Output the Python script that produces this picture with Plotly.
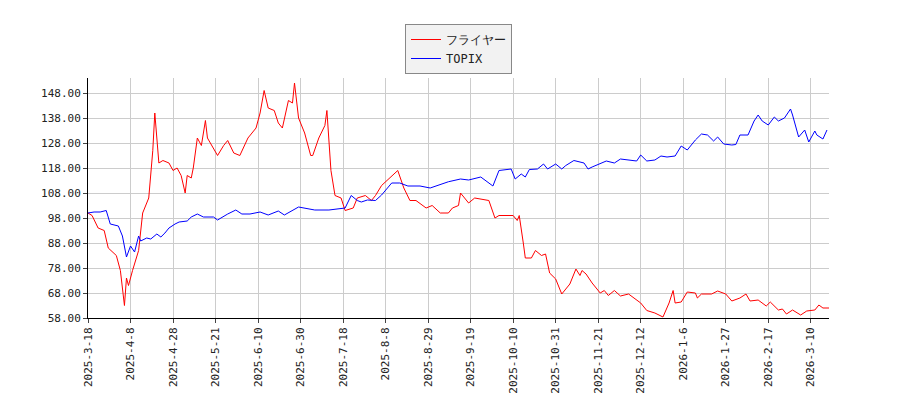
import datetime as dt
import plotly.graph_objects as go

start = dt.date(2025, 3, 18)
red_days = [0,2,5,8,10,14,16,18,19,20,22,25,27,30,32,33,35,37,40,42,
44,46,48,49,51,52,54,56,58,59,64,67,69,72,75,79,83,85,87,89,
92,94,96,99,101,102,104,107,110,111,114,117,118,120,122,125,127,131,133,137,
140,142,145,149,153,156,159,162,167,170,174,178,180,183,184,188,191,198,201,203,
210,212,213,215,216,219,221,224,226,228,231,234,238,241,243,244,246,249,253,255,
257,260,263,267,273,276,280,284,287,289,290,293,296,300,301,303,308,311,315,318,
322,325,327,331,335,337,341,343,345,348,352,355,359,361,363,366]
red_vals = [100,99,94,93,86,83,77,63,74,71,77,85,100,106,125,140,120,121,120,117,
118,115,108,115,114,118,130,127,137,130,123,127,129,124,123,130,134,140,149,142,
141,136,134,145,144,152,138,132,123,123,130,135,141,117,107,106,101,102,106,107,
105,107,111,114,117,110,105,105,102,103,100,100,102,103,108,104,106,105,98,99,
99,97,99,88,82,82,85,83,83.6,76,73.6,67.6,71.6,77.6,75,77,75.6,72,68,69,
67,69,66.8,67.6,64,61,60,58.4,64,69,64,64.4,68.4,68,66,67.6,67.6,68.8,67.6,64.8,
66,67.6,64.8,65.2,62.8,64.4,61.2,61.6,59.6,61.2,59.2,60.8,61.2,63.2,62,62]
blue_days = [0,3,6,9,11,15,17,19,21,23,25,26,29,31,34,36,38,40,43,45,49,51,54,57,62,64,69,73,76,80,
85,89,94,97,104,112,119,125,127,130,133,135,138,142,145,150,154,158,164,169,173,178,184,188,194,198,200,203,209,211,
214,216,218,222,225,227,231,234,236,240,245,247,249,256,260,263,268,271,273,276,280,283,286,290,293,296,300,303,306,309,
311,314,318,320,322,326,329,331,333,336,339,341,344,347,348,351,354,356,359,360,363,365]
blue_vals = [100,100.4,100.4,101,95.6,94.8,90.8,82.4,86.8,84.4,90.8,88.8,90,89.6,91.6,90.4,92,94,95.6,96.4,96.8,98.4,99.6,98.4,98.4,97.2,99.6,101.2,99.6,99.6,
100.4,99.2,100.8,99.2,102.4,101.2,101.2,101.6,102,107,105,104.4,105.2,105,107.2,112,112,110.8,110.8,110,111.2,112.5,113.6,113.2,114.4,112,110.8,117,117.6,113.6,
115.6,114.4,117.4,117.6,119.6,117.6,119.6,117.6,119,121,120,117.6,118.4,120.8,120,121.6,121.2,120.8,123.2,120.8,121.2,122.8,122.4,122.8,126.8,125.2,129.2,131.6,131.2,128.8,
130.4,127.6,127.2,127.4,131.2,131.2,136.8,139.2,136.8,135.2,138.4,136.8,138,141.6,139.2,130.4,133.2,128.4,132.8,131.2,129.6,133.2]
tick_text = ["2025-3-18","2025-4-8","2025-4-28","2025-5-21","2025-6-10","2025-6-30",
             "2025-7-18","2025-8-8","2025-8-29","2025-9-19","2025-10-10","2025-10-31",
             "2025-11-21","2025-12-12","2026-1-6","2026-1-27","2026-2-17","2026-3-10"]
assert len(red_days) == len(red_vals) and len(blue_days) == len(blue_vals)

def todate(d):
    return start + dt.timedelta(days=d)

tick_dates = [todate(21 * i) for i in range(len(tick_text))]
y_ticks = [58 + 10 * i for i in range(10)]

fig = go.Figure()
fig.add_trace(go.Scatter(x=[todate(d) for d in red_days], y=red_vals, mode="lines",
                         name="フライヤー", line=dict(color="red", width=1)))
fig.add_trace(go.Scatter(x=[todate(d) for d in blue_days], y=blue_vals, mode="lines",
                         name="TOPIX", line=dict(color="blue", width=1)))
fig.update_layout(
    width=900, height=400, plot_bgcolor="white", paper_bgcolor="white",
    margin=dict(l=80, r=79, t=70, b=90, autoexpand=False),
    font=dict(family="DejaVu Sans Mono", size=11, color="#222"),
    legend=dict(x=0.5, xanchor="center", y=1.225, yanchor="top", bordercolor="#888",
                borderwidth=1, bgcolor="#f2f2f2", font=dict(size=12)),
    showlegend=True,
)
fig.update_xaxes(range=[todate(0), todate(366.5)], tickvals=tick_dates, ticktext=tick_text,
                 tickangle=-90, showgrid=True, gridcolor="#cccccc", showline=True,
                 linecolor="black", ticks="outside", ticklen=4, zeroline=False)
fig.update_yaxes(range=[58, 154], tickvals=y_ticks, ticktext=[f"{v:.2f}" for v in y_ticks],
                 showgrid=True, gridcolor="#cccccc", showline=True, linecolor="black",
                 ticks="outside", ticklen=4, zeroline=False)
fig.write_html("out.html")
